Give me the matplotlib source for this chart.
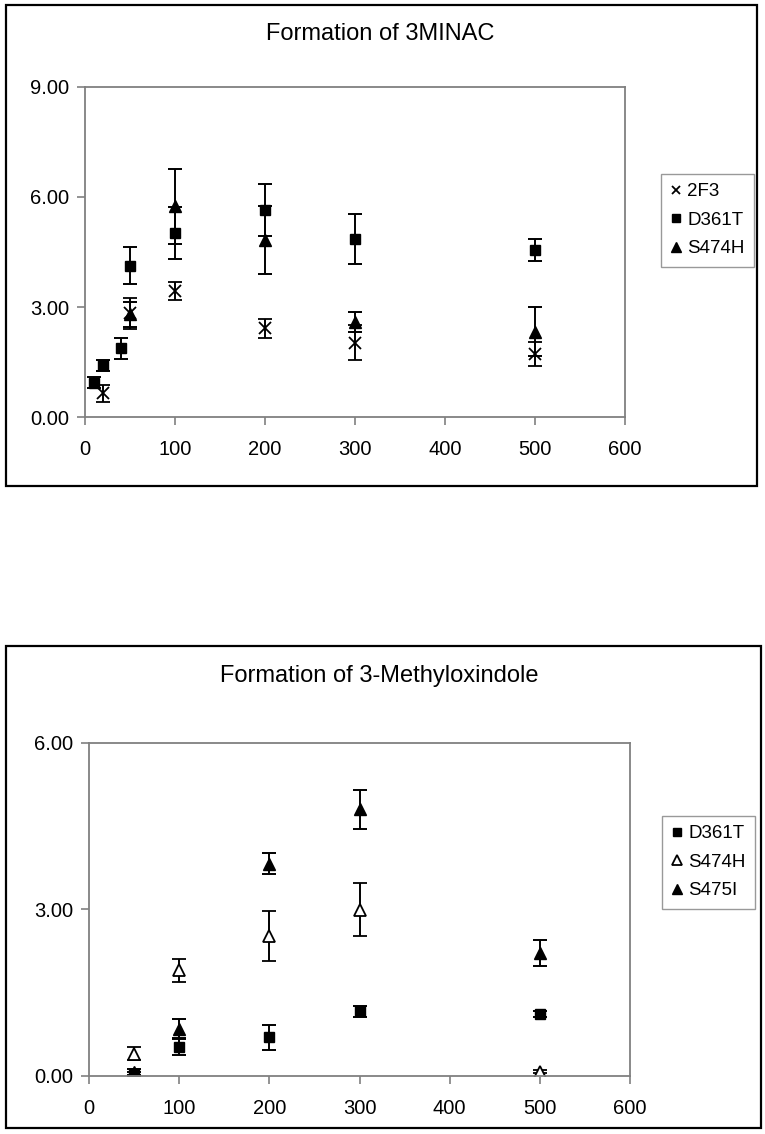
import matplotlib.pyplot as plt
from matplotlib.patches import Rectangle
from matplotlib.ticker import FormatStrFormatter

plt.rcParams['font.family'] = ['Liberation Sans', 'DejaVu Sans']

# Formation of 3MINAC
x_2f3 = [20, 50, 100, 200, 300, 500]
y_2f3 = [0.65, 2.83, 3.44, 2.42, 2.03, 1.72]
e_2f3 = [0.22, 0.43, 0.25, 0.26, 0.47, 0.32]

x_d361t = [10, 20, 40, 50, 100, 200, 300, 500]
y_d361t = [0.94, 1.42, 1.88, 4.13, 5.02, 5.64, 4.85, 4.56]
e_d361t = [0.15, 0.15, 0.28, 0.50, 0.70, 0.71, 0.68, 0.30]

x_s474h = [50, 100, 200, 300, 500]
y_s474h = [2.80, 5.75, 4.83, 2.60, 2.33]
e_s474h = [0.34, 1.02, 0.93, 0.28, 0.67]

# Formation of 3-Methyloxindole
x2 = [50, 100, 200, 300, 500]
y2_d361t = [0.03, 0.52, 0.69, 1.16, 1.11]
e2_d361t = [0.03, 0.14, 0.23, 0.10, 0.05]
y2_s474h = [0.40, 1.90, 2.51, 2.99, 0.07]
e2_s474h = [0.11, 0.21, 0.45, 0.48, 0.03]
y2_s475i = [0.07, 0.85, 3.82, 4.80, 2.21]
e2_s475i = [0.05, 0.17, 0.19, 0.35, 0.24]

W, H = 765, 1134
fig = plt.figure(figsize=(W / 100, H / 100), dpi=100)


def fx(px):
    return px / W


def fy(py):
    return 1 - py / H


# outer black frames
for (x0, y0, x1, y1) in [(6, 5, 757, 486), (6, 646, 761, 1128)]:
    fig.patches.append(Rectangle((fx(x0), fy(y1)), fx(x1 - x0), (y1 - y0) / H,
                                 transform=fig.transFigure, fill=False,
                                 edgecolor='black', linewidth=1.6))


def style_axes(ax, ymax, ystep):
    ax.set_xlim(0, 600)
    ax.set_ylim(0, ymax)
    ax.set_xticks(range(0, 601, 100))
    ax.set_yticks([i * ystep for i in range(int(ymax / ystep) + 1)])
    ax.yaxis.set_major_formatter(FormatStrFormatter('%.2f'))
    for s in ax.spines.values():
        s.set_color('#808080')
        s.set_linewidth(1.3)
    ax.tick_params(direction='out', length=5.5, width=1.2, color='#808080',
                   labelsize=14.5, pad=6)
    ax.tick_params(axis='x', pad=11)
    ax.xaxis.set_ticks_position('bottom')
    ax.yaxis.set_ticks_position('left')


def add_legend(ax, x0, y0):
    h, l = ax.get_legend_handles_labels()
    leg = ax.legend([hh[0] for hh in h], l, loc='upper left',
                    bbox_to_anchor=(fx(x0), fy(y0)), bbox_transform=fig.transFigure,
                    fontsize=13.5, frameon=True, fancybox=False, handlelength=0.6,
                    handletextpad=0.3, borderpad=0.5, labelspacing=0.6,
                    markerscale=0.75, borderaxespad=0)
    leg.get_frame().set_edgecolor('#808080')
    leg.get_frame().set_linewidth(1.0)


ebkw = dict(ecolor='black', elinewidth=1.4, capsize=5, capthick=1.4,
            linestyle='none')

# top chart
ax1 = fig.add_axes([fx(85), fy(417.3), fx(540), 330.6 / H])
style_axes(ax1, 9, 3)
ax1.errorbar(x_2f3, y_2f3, yerr=e_2f3, marker='x', ms=8, mew=1.3,
             color='black', label='2F3', **ebkw)
ax1.errorbar(x_d361t, y_d361t, yerr=e_d361t, marker='s', ms=7,
             color='black', label='D361T', **ebkw)
ax1.errorbar(x_s474h, y_s474h, yerr=e_s474h, marker='^', ms=9,
             color='black', label='S474H', **ebkw)
fig.text(fx(380), fy(34.5), 'Formation of 3MINAC', fontsize=17,
         ha='center', va='center')
add_legend(ax1, 661, 174)

# bottom chart
ax2 = fig.add_axes([fx(89), fy(1075.7), fx(541), 333 / H])
style_axes(ax2, 6, 3)
ax2.errorbar(x2, y2_d361t, yerr=e2_d361t, marker='s', ms=7,
             color='black', label='D361T', **ebkw)
ax2.errorbar(x2, y2_s474h, yerr=e2_s474h, marker='^', ms=9,
             mfc='white', mec='black', mew=1.3, color='black',
             label='S474H', **ebkw)
ax2.errorbar(x2, y2_s475i, yerr=e2_s475i, marker='^', ms=9,
             color='black', label='S475I', **ebkw)
fig.text(fx(379), fy(676), 'Formation of 3-Methyloxindole', fontsize=17,
         ha='center', va='center')
add_legend(ax2, 662, 816)

fig.savefig('out.png', dpi=100)
